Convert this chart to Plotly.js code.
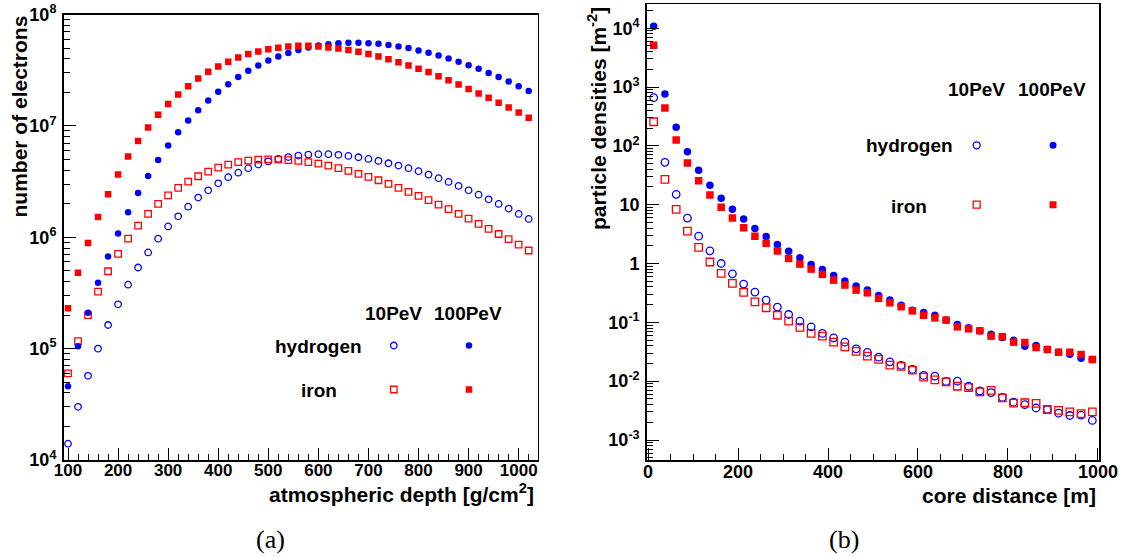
<!DOCTYPE html>
<html>
<head>
<meta charset="utf-8">
<script src="https://cdn.plot.ly/plotly-3.0.1.min.js"></script>
<style>html,body{margin:0;padding:0;background:#fff;}#chart{width:1133px;height:557px;}</style>
</head>
<body>
<div id="chart"></div>
<script>
// ---------- Data (a): electrons vs atmospheric depth ----------
const depth = [100,120,140,160,180,200,220,240,260,280,300,320,340,360,380,400,420,440,460,480,500,520,540,560,580,600,620,640,660,680,700,720,740,760,780,800,820,840,860,880,900,920,940,960,980,1000,1020];
const hydrogen10_a = [1.4e4,3.0e4,5.7e4,1.0e5,1.63e5,2.5e5,3.75e5,5.35e5,7.3e5,9.7e5,1.25e6,1.54e6,1.88e6,2.27e6,2.64e6,3.05e6,3.46e6,3.8e6,4.17e6,4.49e6,4.8e6,5.05e6,5.25e6,5.41e6,5.52e6,5.57e6,5.57e6,5.5e6,5.37e6,5.23e6,5.05e6,4.85e6,4.62e6,4.4e6,4.17e6,3.92e6,3.65e6,3.39e6,3.14e6,2.89e6,2.64e6,2.41e6,2.19e6,1.99e6,1.81e6,1.62e6,1.46e6];
const hydrogen100_a = [4.6e4,1.05e5,2.1e5,3.9e5,6.7e5,1.08e6,1.68e6,2.5e6,3.55e6,4.95e6,6.65e6,8.75e6,1.12e7,1.38e7,1.69e7,2.02e7,2.37e7,2.74e7,3.12e7,3.48e7,3.86e7,4.2e7,4.52e7,4.79e7,5.05e7,5.27e7,5.42e7,5.53e7,5.57e7,5.57e7,5.53e7,5.45e7,5.31e7,5.16e7,4.99e7,4.75e7,4.53e7,4.28e7,4.03e7,3.76e7,3.51e7,3.25e7,2.99e7,2.74e7,2.5e7,2.27e7,2.06e7];
const iron10_a = [6.0e4,1.17e5,2.0e5,3.25e5,4.95e5,7.1e5,9.7e5,1.27e6,1.62e6,1.99e6,2.38e6,2.77e6,3.16e6,3.53e6,3.89e6,4.22e6,4.49e6,4.72e6,4.87e6,4.97e6,5.0e6,4.98e6,4.93e6,4.85e6,4.72e6,4.58e6,4.4e6,4.17e6,3.94e6,3.7e6,3.48e6,3.25e6,3.01e6,2.77e6,2.55e6,2.35e6,2.15e6,1.96e6,1.79e6,1.62e6,1.47e6,1.32e6,1.19e6,1.07e6,9.6e5,8.6e5,7.6e5];
const iron100_a = [2.3e5,4.8e5,8.9e5,1.52e6,2.43e6,3.65e6,5.3e6,7.3e6,9.65e6,1.26e7,1.57e7,1.91e7,2.27e7,2.66e7,3.06e7,3.41e7,3.76e7,4.11e7,4.43e7,4.65e7,4.87e7,5.04e7,5.15e7,5.23e7,5.23e7,5.16e7,5.05e7,4.95e7,4.79e7,4.62e7,4.41e7,4.2e7,3.97e7,3.73e7,3.48e7,3.25e7,3.04e7,2.79e7,2.57e7,2.35e7,2.14e7,1.95e7,1.79e7,1.61e7,1.46e7,1.32e7,1.18e7];

// ---------- Data (b): particle densities vs core distance ----------
const coreDist = [12.5,37.5,62.5,87.5,112.5,137.5,162.5,187.5,212.5,237.5,262.5,287.5,312.5,337.5,362.5,387.5,412.5,437.5,462.5,487.5,512.5,537.5,562.5,587.5,612.5,637.5,662.5,687.5,712.5,737.5,762.5,787.5,812.5,837.5,862.5,887.5,912.5,937.5,962.5,987.5];
const hydrogen10_b = [658,52.4,15,5.92,2.92,1.64,1.0,0.668,0.447,0.327,0.239,0.182,0.136,0.105,0.0838,0.0648,0.0545,0.046,0.0354,0.0308,0.0256,0.0213,0.0185,0.0158,0.0125,0.0122,0.0099,0.01,0.0082,0.0068,0.0064,0.0053,0.0044,0.0040,0.0035,0.0033,0.00286,0.00261,0.00265,0.00215];
const hydrogen100_b = [1.08e4,760,207,79,38.3,21.3,12.9,8.4,5.7,3.95,2.87,2.11,1.61,1.25,0.966,0.794,0.628,0.502,0.413,0.353,0.287,0.239,0.196,0.161,0.147,0.132,0.110,0.092,0.081,0.0717,0.063,0.0553,0.0498,0.0394,0.0404,0.0346,0.0311,0.0288,0.0246,0.0234];
const iron10_b = [257,26.9,8.3,3.56,1.88,1.06,0.679,0.459,0.323,0.223,0.177,0.132,0.105,0.0818,0.0648,0.0582,0.046,0.0383,0.032,0.0266,0.0234,0.0187,0.0178,0.0154,0.0117,0.0105,0.0097,0.0082,0.0078,0.0066,0.007,0.0052,0.00423,0.0043,0.0042,0.0033,0.00318,0.003,0.0028,0.003];
const iron100_b = [5120,440,126,51,25.5,14.6,9.0,5.92,4.05,2.92,2.2,1.63,1.22,0.977,0.803,0.653,0.522,0.43,0.353,0.318,0.255,0.215,0.184,0.157,0.132,0.119,0.109,0.0838,0.0776,0.0717,0.0582,0.057,0.046,0.0455,0.0374,0.0346,0.0311,0.0311,0.0284,0.0234];

// ---------- Legend categories and tick labels ----------
const energies = ['10PeV','100PeV'];
const primaries = ['hydrogen','iron'];
const yTickVals_a = [1e4,1e5,1e6,1e7,1e8];
const yTickText_a = ['10<sup>4</sup>','10<sup>5</sup>','10<sup>6</sup>','10<sup>7</sup>','10<sup>8</sup>'];
const yTickVals_b = [1e-3,1e-2,1e-1,1,10,1e2,1e3,1e4];
const yTickText_b = ['10<sup>-3</sup>','10<sup>-2</sup>','10<sup>-1</sup>','1','10','10<sup>2</sup>','10<sup>3</sup>','10<sup>4</sup>'];

// ---------- Styling ----------
const W = 1133, H = 557;
const fx = p => p / W;
const fy = p => 1 - p / H;
const BLUE = '#0000ff', RED = '#ff0000';
const SANS = 'Liberation Sans, Arial, Helvetica, sans-serif';
const SERIF = 'Liberation Serif, Times New Roman, serif';

function minorLog(lo, hi) {
  const v = [];
  for (let e = lo; e <= hi; e++) for (let m = 2; m <= 9; m++) v.push(m * Math.pow(10, e));
  return v;
}

const styles = {
  h10: {symbol: 'circle-open', color: BLUE, line: {color: BLUE, width: 1.3}},
  h100: {symbol: 'circle', color: BLUE, line: {width: 0}},
  fe10: {symbol: 'square-open', color: RED, line: {color: RED, width: 1.3}},
  fe100: {symbol: 'square', color: RED, line: {width: 0}}
};
function tr(x, y, st, size, xa, ya) {
  return {x: x, y: y, type: 'scatter', mode: 'markers', xaxis: xa, yaxis: ya,
    marker: Object.assign({size: size}, st), showlegend: false, hoverinfo: 'skip', cliponaxis: true};
}

const data = [
  tr(depth, hydrogen10_a, styles.h10, 6.5, 'x', 'y'),
  tr(depth, iron10_a, styles.fe10, 6.5, 'x', 'y'),
  tr(depth, hydrogen100_a, styles.h100, 6.5, 'x', 'y'),
  tr(depth, iron100_a, styles.fe100, 6.5, 'x', 'y'),
  tr(coreDist, hydrogen10_b, styles.h10, 7.5, 'x2', 'y2'),
  tr(coreDist, iron10_b, styles.fe10, 7.5, 'x2', 'y2'),
  tr(coreDist, hydrogen100_b, styles.h100, 7.5, 'x2', 'y2'),
  tr(coreDist, iron100_b, styles.fe100, 7.5, 'x2', 'y2'),
  // legend (a)
  tr([energies[0]], [primaries[0]], styles.h10, 6.5, 'x3', 'y3'),
  tr([energies[1]], [primaries[0]], styles.h100, 6.5, 'x3', 'y3'),
  tr([energies[0]], [primaries[1]], styles.fe10, 6.5, 'x3', 'y3'),
  tr([energies[1]], [primaries[1]], styles.fe100, 6.5, 'x3', 'y3'),
  // legend (b)
  tr([energies[0]], [primaries[0]], styles.h10, 7, 'x4', 'y4'),
  tr([energies[1]], [primaries[0]], styles.h100, 7, 'x4', 'y4'),
  tr([energies[0]], [primaries[1]], styles.fe10, 7, 'x4', 'y4'),
  tr([energies[1]], [primaries[1]], styles.fe100, 7, 'x4', 'y4')
];

const tickFont = {family: SANS, size: 18, color: '#000', weight: 'bold'};
const baseAxis = {
  showline: true, mirror: true, linecolor: '#000', linewidth: 1.5,
  showgrid: false, zeroline: false, ticks: 'inside', ticklen: 12, tickwidth: 1, tickcolor: '#000',
  tickfont: tickFont, fixedrange: true
};

const layout = {
  width: W, height: H,
  margin: {l: 0, r: 0, t: 0, b: 0},
  paper_bgcolor: '#fff', plot_bgcolor: '#fff',
  showlegend: false,
  xaxis: Object.assign({}, baseAxis, {
    domain: [fx(63.5), fx(537.7)], range: [91, 1038], anchor: 'y',
    tick0: 100, dtick: 100, ticklabelstandoff: -6,
    tickfont: Object.assign({}, tickFont, {size: 17}),
    minor: {tick0: 100, dtick: 20, ticks: 'inside', ticklen: 6, tickcolor: '#000', showgrid: false}
  }),
  yaxis: Object.assign({}, baseAxis, {
    domain: [fy(460), fy(14.5)], type: 'log', range: [4, 8], anchor: 'x',
    tickmode: 'array', tickvals: yTickVals_a, ticktext: yTickText_a, ticklabelstandoff: 2,
    minor: {tickmode: 'array', tickvals: minorLog(4, 7), ticks: 'inside', ticklen: 6, tickcolor: '#000', showgrid: false}
  }),
  xaxis2: Object.assign({}, baseAxis, {
    domain: [fx(646.7), fx(1099.3)], range: [-3, 1003], anchor: 'y2',
    tick0: 0, dtick: 200, ticklabelstandoff: -5,
    minor: {tick0: 0, dtick: 50, ticks: 'inside', ticklen: 6, tickcolor: '#000', showgrid: false}
  }),
  yaxis2: Object.assign({}, baseAxis, {
    domain: [fy(460), fy(4.3)], type: 'log', range: [-3.34, 4.406], anchor: 'x2',
    tickmode: 'array', tickvals: yTickVals_b, ticktext: yTickText_b, ticklabelstandoff: 2,
    minor: {tickmode: 'array', tickvals: minorLog(-4, 4), ticks: 'inside', ticklen: 6, tickcolor: '#000', showgrid: false}
  }),
  xaxis3: {domain: [fx(356.2), fx(506.5)], type: 'category', categoryarray: energies, range: [-0.5, 1.5], anchor: 'y3', visible: false, fixedrange: true},
  yaxis3: {domain: [fy(411.5), fy(323.5)], type: 'category', categoryarray: primaries, range: [1.5, -0.5], anchor: 'x3', visible: false, fixedrange: true},
  xaxis4: {domain: [fx(938.5), fx(1091.2)], type: 'category', categoryarray: energies, range: [-0.5, 1.5], anchor: 'y4', visible: false, fixedrange: true},
  yaxis4: {domain: [fy(234.4), fy(115.6)], type: 'category', categoryarray: primaries, range: [1.5, -0.5], anchor: 'x4', visible: false, fixedrange: true},
  annotations: []
};

function ann(text, px, py, opts) {
  layout.annotations.push(Object.assign({
    text: text, x: fx(px), y: fy(py), xref: 'paper', yref: 'paper',
    showarrow: false, xanchor: 'center', yanchor: 'middle',
    font: {family: SANS, size: 21, color: '#000'}
  }, opts || {}));
}
// axis titles
ann('<b>number of electrons</b>', 19.5, 117, {textangle: -90});
ann('<b>atmospheric depth [g/cm<sup>2</sup>]</b>', 536, 493, {xanchor: 'right'});
ann('<b>particle densities [m<sup>-2</sup>]</b>', 597, 119, {textangle: -90});
ann('<b>core distance [m]</b>', 1098, 495, {xanchor: 'right'});
// panel labels
ann('(a)', 270, 539, {font: {family: SERIF, size: 26, color: '#000'}});
ann('(b)', 844, 539, {font: {family: SERIF, size: 26, color: '#000'}});
// legend texts (a)
const legFont = {family: SANS, size: 19, color: '#000'};
ann('<b>' + energies[0] + '</b>', 393.5, 313, {font: legFont});
ann('<b>' + energies[1] + '</b>', 468.5, 313, {font: legFont});
ann('<b>' + primaries[0] + '</b>', 318.5, 346.5, {font: legFont});
ann('<b>' + primaries[1] + '</b>', 318.5, 390.5, {font: legFont});
// legend texts (b)
ann('<b>' + energies[0] + '</b>', 976.7, 89.3, {font: legFont});
ann('<b>' + energies[1] + '</b>', 1052.3, 89.3, {font: legFont});
ann('<b>' + primaries[0] + '</b>', 909.2, 145.7, {font: legFont});
ann('<b>' + primaries[1] + '</b>', 909.2, 206.7, {font: legFont});

Plotly.newPlot('chart', data, layout, {staticPlot: true, displayModeBar: false});
</script>
</body>
</html>
